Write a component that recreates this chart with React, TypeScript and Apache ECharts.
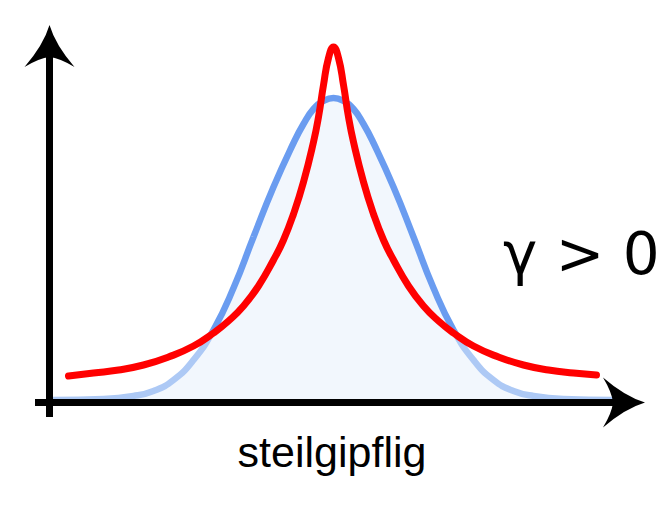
import React, { useEffect, useRef } from "react";
import * as echarts from "echarts";

// Normal curve (blue): horizontal offset from the peak (px units) and height above baseline
const blueX = [-280, -230, -200, -180, -160, -140, -120, -100, -80, -60, -40, -30, -20, -10, 0, 10, 20, 30, 40, 60, 80, 100, 120, 140, 160, 180, 200, 230, 280];
const blueY = [0, 1, 4, 9, 20, 40, 70, 112, 163, 213, 257, 276, 291, 299, 302, 299, 291, 276, 257, 213, 163, 112, 70, 40, 20, 9, 4, 1, 0];

// Leptokurtic curve (red)
const redX = [-265, -240, -215, -190, -165, -140, -120, -105, -90, -75, -60, -50, -40, -30, -20, -15, -10, -5, 0, 5, 10, 15, 20, 30, 40, 50, 60, 75, 90, 105, 120, 140, 165, 190, 215, 240, 263];
const redY = [24, 27, 30, 35, 43, 54, 67, 79, 94, 114, 140, 160, 186, 218, 258, 283, 315, 342, 353, 342, 315, 283, 258, 218, 186, 160, 140, 114, 94, 79, 67, 54, 43, 35, 30, 27, 25];

const xLabel = "steilgipflig";
const gammaLabel = "γ > 0";

echarts.graphic.registerShape(
  "arrowRight",
  echarts.graphic.extendPath("M0 0 Q-20 -6 -42 -25 Q-33 -10 -32 0 Q-33 10 -42 25 Q-20 6 0 0 Z", {})
);
echarts.graphic.registerShape(
  "arrowUp",
  echarts.graphic.extendPath("M0 0 Q-6 20 -25 42 Q-10 33 0 32 Q10 33 25 42 Q6 20 0 0 Z", {})
);

export default function App() {
  const ref = useRef<HTMLDivElement>(null);
  useEffect(() => {
    if (!ref.current) return;
    const chart = echarts.init(ref.current, null, { renderer: "svg" });
    const blue = blueX.map((x, i) => [x, blueY[i]]);
    const red = redX.map((x, i) => [x, redY[i]]);
    chart.setOption({
      animation: false,
      backgroundColor: "#ffffff",
      grid: { left: 0, right: 0, top: 0, bottom: 0 },
      xAxis: { type: "value", min: -333.5, max: 337.5, show: false },
      yAxis: { type: "value", min: -112, max: 400, show: false },
      series: [
        {
          type: "line",
          data: blue,
          smooth: 0.5,
          symbol: "none",
          z: 2,
          lineStyle: {
            width: 6.5,
            cap: "round",
            color: new echarts.graphic.LinearGradient(0, 0, 0, 1, [
              { offset: 0, color: "#6a9cf0" },
              { offset: 0.76, color: "#6a9cf0" },
              { offset: 0.8, color: "#adc9f5" },
              { offset: 1, color: "#adc9f5" },
            ]),
          },
          areaStyle: { color: "#f2f7fd", opacity: 1 },
        },
        {
          type: "line",
          data: red,
          smooth: 0.5,
          symbol: "none",
          z: 3,
          lineStyle: { width: 7, color: "#ff0000", cap: "round" },
        },
      ],
      graphic: [
        { type: "line", z: 10, shape: { x1: 49.5, y1: 417, x2: 49.5, y2: 55 }, style: { stroke: "#000", lineWidth: 7 } },
        { type: "line", z: 10, shape: { x1: 35, y1: 402.5, x2: 615, y2: 402.5 }, style: { stroke: "#000", lineWidth: 7 } },
        { type: "arrowUp", z: 10, x: 49.5, y: 25, style: { fill: "#000" } },
        { type: "arrowRight", z: 10, x: 645, y: 402.5, style: { fill: "#000" } },
        {
          type: "text",
          z: 10,
          x: 503,
          y: 254,
          style: { text: gammaLabel, font: '58px "DejaVu Sans"', fill: "#000", align: "left", verticalAlign: "middle" },
        },
        {
          type: "text",
          z: 10,
          x: 332,
          y: 452,
          style: { text: xLabel, font: '43px "Liberation Sans"', fill: "#000", align: "center", verticalAlign: "middle" },
        },
      ],
    });
    return () => chart.dispose();
  }, []);
  return <div ref={ref} style={{ position: "absolute", left: 0, top: 0, width: 671, height: 512 }} />;
}
